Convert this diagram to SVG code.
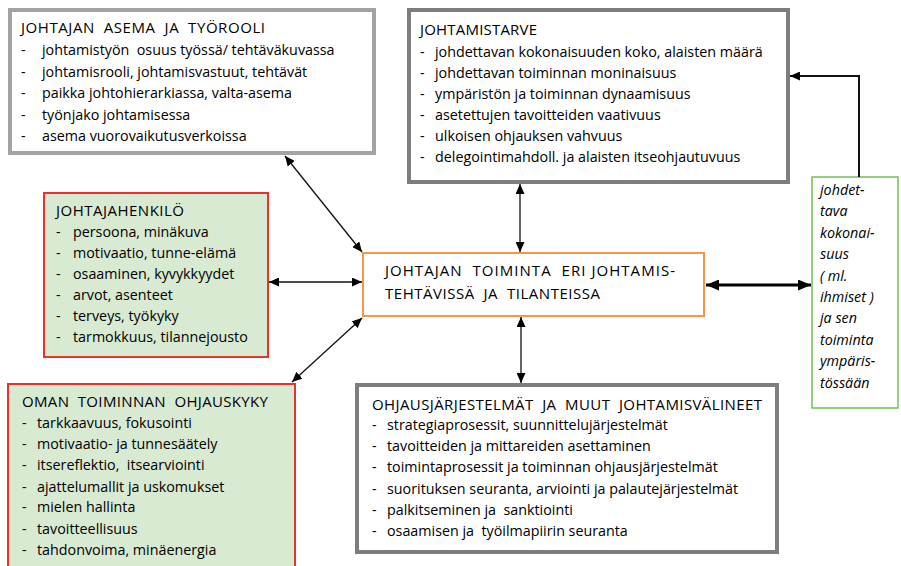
<svg xmlns="http://www.w3.org/2000/svg" width="901" height="566" viewBox="0 0 901 566">
<style>
text{font-family:"Open Sans","Liberation Sans",sans-serif;font-size:14.3px;fill:#000}
.h{font-size:15px}
.it{font-style:italic}
.gl{fill:#fff;stroke:#a3a3a3;stroke-width:4}
.gd{fill:#fff;stroke:#7d7d7d;stroke-width:4}
.rg{fill:#d9ead3;stroke:#e8322c;stroke-width:2}
.or{fill:#fff;stroke:#f79646;stroke-width:2}
.gr{fill:#fff;stroke:#72c056;stroke-width:1.5}
.c{fill:none;stroke:#111;stroke-width:1.3}
.ct{fill:none;stroke:#000;stroke-width:3}
</style>
<defs>
<marker id="ah" markerUnits="userSpaceOnUse" markerWidth="10" markerHeight="9" refX="10" refY="4.5" orient="auto-start-reverse"><path d="M0,0 L10,4.5 L0,9 z" fill="#000"/></marker>
<marker id="ahb" markerUnits="userSpaceOnUse" markerWidth="13" markerHeight="11" refX="13" refY="5.5" orient="auto-start-reverse"><path d="M0,0 L13,5.5 L0,11 z" fill="#000"/></marker>
</defs>
<g id="asema">
<rect class="gl" x="10" y="10" width="364" height="143"/>
<text class="h" x="21" y="33" xml:space="preserve" textLength="244" lengthAdjust="spacing">JOHTAJAN  ASEMA  JA  TYÖROOLI</text>
<text y="55" xml:space="preserve"><tspan x="21">-</tspan><tspan x="42">johtamistyön  osuus työssä/ tehtäväkuvassa</tspan></text>
<text y="77"><tspan x="21">-</tspan><tspan x="42">johtamisrooli, johtamisvastuut, tehtävät</tspan></text>
<text y="98"><tspan x="21">-</tspan><tspan x="42">paikka johtohierarkiassa, valta-asema</tspan></text>
<text y="120"><tspan x="21">-</tspan><tspan x="42">työnjako johtamisessa</tspan></text>
<text y="141"><tspan x="21">-</tspan><tspan x="42">asema vuorovaikutusverkoissa</tspan></text>
</g>
<g id="johtamistarve">
<rect class="gd" x="409" y="10" width="379" height="172"/>
<text class="h" x="420" y="35" textLength="117" lengthAdjust="spacing">JOHTAMISTARVE</text>
<text y="57"><tspan x="420">-</tspan><tspan x="435">johdettavan kokonaisuuden koko, alaisten määrä</tspan></text>
<text y="78"><tspan x="420">-</tspan><tspan x="435">johdettavan toiminnan moninaisuus</tspan></text>
<text y="99"><tspan x="420">-</tspan><tspan x="435">ympäristön ja toiminnan dynaamisuus</tspan></text>
<text y="120"><tspan x="420">-</tspan><tspan x="435">asetettujen tavoitteiden vaativuus</tspan></text>
<text y="141"><tspan x="420">-</tspan><tspan x="435">ulkoisen ohjauksen vahvuus</tspan></text>
<text y="162"><tspan x="420">-</tspan><tspan x="435">delegointimahdoll. ja alaisten itseohjautuvuus</tspan></text>
</g>
<g id="johtajahenkilo">
<rect class="rg" x="44" y="193" width="224" height="164"/>
<text class="h" x="56" y="216" textLength="128" lengthAdjust="spacing">JOHTAJAHENKILÖ</text>
<text y="237"><tspan x="56">-</tspan><tspan x="73">persoona, minäkuva</tspan></text>
<text y="258"><tspan x="56">-</tspan><tspan x="73">motivaatio, tunne-elämä</tspan></text>
<text y="279"><tspan x="56">-</tspan><tspan x="73">osaaminen, kyvykkyydet</tspan></text>
<text y="300"><tspan x="56">-</tspan><tspan x="73">arvot, asenteet</tspan></text>
<text y="321"><tspan x="56">-</tspan><tspan x="73">terveys, työkyky</tspan></text>
<text y="342"><tspan x="56">-</tspan><tspan x="73">tarmokkuus, tilannejousto</tspan></text>
</g>
<g id="toiminta">
<rect class="or" x="363" y="253" width="341" height="63"/>
<text class="h" x="385" y="276" xml:space="preserve" textLength="290" lengthAdjust="spacing">JOHTAJAN  TOIMINTA  ERI JOHTAMIS-</text>
<text class="h" x="385" y="299" xml:space="preserve" textLength="215" lengthAdjust="spacing">TEHTÄVISSÄ  JA  TILANTEISSA</text>
</g>
<g id="kokonaisuus">
<rect class="gr" x="812" y="177" width="86" height="231"/>
<text class="it" x="820" y="195">johdet-</text>
<text class="it" x="820" y="216">tava</text>
<text class="it" x="820" y="238">kokonai-</text>
<text class="it" x="820" y="259">suus</text>
<text class="it" x="820" y="281">( ml.</text>
<text class="it" x="820" y="302">ihmiset )</text>
<text class="it" x="820" y="323">ja sen</text>
<text class="it" x="820" y="345">toiminta</text>
<text class="it" x="820" y="366">ympäris-</text>
<text class="it" x="820" y="388">tössään</text>
</g>
<g id="ohjauskyky">
<rect class="rg" x="8" y="384" width="287" height="200"/>
<text class="h" x="22" y="407" xml:space="preserve" textLength="246" lengthAdjust="spacing">OMAN  TOIMINNAN  OHJAUSKYKY</text>
<text y="428"><tspan x="22">-</tspan><tspan x="37">tarkkaavuus, fokusointi</tspan></text>
<text y="449"><tspan x="22">-</tspan><tspan x="37">motivaatio- ja tunnesäätely</tspan></text>
<text y="470" xml:space="preserve"><tspan x="22">-</tspan><tspan x="37">itsereflektio,  itsearviointi</tspan></text>
<text y="492"><tspan x="22">-</tspan><tspan x="37">ajattelumallit ja uskomukset</tspan></text>
<text y="512"><tspan x="22">-</tspan><tspan x="37">mielen hallinta</tspan></text>
<text y="534"><tspan x="22">-</tspan><tspan x="37">tavoitteellisuus</tspan></text>
<text y="555"><tspan x="22">-</tspan><tspan x="37">tahdonvoima, minäenergia</tspan></text>
</g>
<g id="ohjausjarjestelmat">
<rect class="gd" x="357" y="385" width="420" height="167"/>
<text class="h" x="372" y="410" xml:space="preserve" textLength="390" lengthAdjust="spacing">OHJAUSJÄRJESTELMÄT  JA  MUUT  JOHTAMISVÄLINEET</text>
<text y="430"><tspan x="372">-</tspan><tspan x="387">strategiaprosessit, suunnittelujärjestelmät</tspan></text>
<text y="451"><tspan x="372">-</tspan><tspan x="387">tavoitteiden ja mittareiden asettaminen</tspan></text>
<text y="472"><tspan x="372">-</tspan><tspan x="387">toimintaprosessit ja toiminnan ohjausjärjestelmät</tspan></text>
<text y="494"><tspan x="372">-</tspan><tspan x="387">suorituksen seuranta, arviointi ja palautejärjestelmät</tspan></text>
<text y="515" xml:space="preserve"><tspan x="372">-</tspan><tspan x="387">palkitseminen ja  sanktiointi</tspan></text>
<text y="536" xml:space="preserve"><tspan x="372">-</tspan><tspan x="387">osaamisen ja  työilmapiirin seuranta</tspan></text>
</g>
<g id="connectors">
<line class="c" x1="285" y1="156" x2="362" y2="252" marker-start="url(#ah)" marker-end="url(#ah)"/>
<line class="c" x1="269" y1="282" x2="362" y2="282" marker-start="url(#ah)" marker-end="url(#ah)"/>
<line class="c" x1="292" y1="382" x2="362" y2="318" marker-start="url(#ah)" marker-end="url(#ah)"/>
<line class="c" x1="520" y1="184" x2="520" y2="252" marker-start="url(#ah)" marker-end="url(#ah)"/>
<line class="c" x1="521" y1="317" x2="521" y2="383" marker-start="url(#ah)" marker-end="url(#ah)"/>
<line class="ct" x1="706" y1="285" x2="811" y2="285" marker-start="url(#ahb)" marker-end="url(#ahb)"/>
<path class="c" style="stroke-width:2" d="M859,177 V76 H790" marker-end="url(#ah)"/>
</g>
</svg>
